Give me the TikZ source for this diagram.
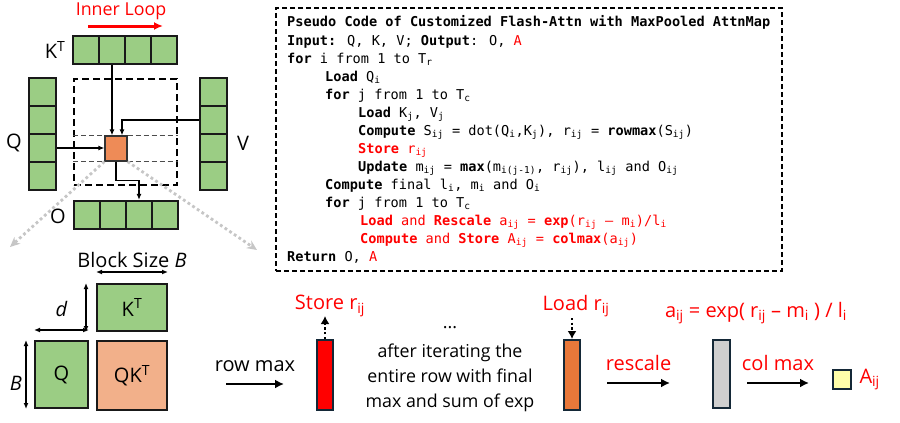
\documentclass[tikz,border=0pt]{standalone}
\usepackage{xcolor}
\usepackage{fontspec}
\setmainfont{Open Sans}
\newfontfamily\codefont{DejaVu Sans Mono}
\usepackage{tikz}
\usetikzlibrary{positioning,calc,arrows.meta}

\definecolor{cellgreen}{RGB}{155,205,132}
\definecolor{blkorange}{RGB}{238,139,87}
\definecolor{qksalmon}{RGB}{242,176,138}
\definecolor{barorange}{RGB}{232,120,58}
\definecolor{bargrey}{RGB}{207,207,207}
\definecolor{outyellow}{RGB}{255,255,170}
\definecolor{barline}{RGB}{20,40,55}
\newcommand{\sbs}[1]{\textsubscript{#1}}

\begin{document}
\begin{tikzpicture}[x=1pt,y=-1pt,
    lbl/.style={font=\fontsize{20}{24}\selectfont},
    smalllbl/.style={font=\fontsize{17.8}{25}\selectfont},
    code/.style={font=\codefont\fontsize{13.6}{18}\selectfont, anchor=base west, inner sep=0pt},
    cell/.style={draw=black!90, line width=2.2pt, fill=cellgreen, minimum width=26pt, minimum height=28pt, inner sep=0pt},
    vcell/.style={cell, minimum width=27pt},
    box/.style={draw=black!90, line width=2pt, inner sep=0pt, lbl},
    bar/.style={draw=barline, line width=2pt, inner sep=0pt, minimum width=16pt, minimum height=70pt},
    flow/.style={-{Latex[length=6pt,width=5pt]}, line width=1.3pt},
    dim/.style={<->, >={Latex[length=6pt,width=5pt]}, line width=1.4pt},
    bigarrow/.style={-{Latex[length=9pt,width=9pt]}, line width=2.6pt},
    dotflow/.style={-{Latex[length=8pt,width=9pt]}, line width=2.6pt, dash pattern=on 2.4pt off 2.2pt},
    zoomline/.style={-{Stealth[length=10pt,width=9pt]}, draw=gray!45, line width=2.8pt, dash pattern=on 2.8pt off 2.8pt}]
\useasboundingbox (0,0) rectangle (900,423);

% tiled attention
\node[smalllbl, text=red] (inner) at (121,11) {Inner Loop};
\coordinate (ilA) at (88,26);
\coordinate (ilB) at (163,26);
\draw[-{Latex[length=9pt,width=8pt]}, red, line width=3pt] (ilA) -- (ilB);

\foreach \i in {1,...,4} {
    \node[cell] (k\i) at ({60+26*\i},50) {};
    \node[vcell] (q\i) at (42.5,{64+28*\i}) {};
    \node[vcell] (v\i) at (213.5,{64+28*\i}) {};
    \node[cell] (o\i) at ({61+26*\i},215) {};
}
\node[lbl, left=3pt of k1] (ktl) {K\textsuperscript{T}};
\node[lbl] (ql) at (14,143) {Q};
\node[lbl] (vl) at (243,143) {V};
\node[lbl] (ol) at (58,216) {O};

\node[draw, line width=1.3pt, dash pattern=on 7pt off 4pt, minimum width=103pt, minimum height=106pt] (win) at (125.5,132) {};
\node[draw=black!80, fill=blkorange, line width=1.2pt, minimum width=22pt, minimum height=25pt, inner sep=0pt] (blk) at (116,148.5) {};
\draw[black!70, line width=1pt, dash pattern=on 5pt off 3pt] (win.west |- blk.north) -- (blk.north west);
\draw[black!70, line width=1pt, dash pattern=on 5pt off 3pt] (blk.north east) -- (win.east |- blk.north);
\draw[black!70, line width=1pt, dash pattern=on 5pt off 3pt] (win.west |- blk.south) -- (blk.south west);
\draw[black!70, line width=1pt, dash pattern=on 5pt off 3pt] (blk.south east) -- (win.east |- blk.south);

\draw[flow] (k2.south) -- (k2.south |- blk.north);
\draw[flow] (v2.west) -| ([xshift=6pt]blk.north);
\draw[flow] (q3.east) -- (q3.east -| blk.west);
\draw[flow] (blk.south) -- ++(0,19) -| (o3.north);

\coordinate (zl) at (10,247);
\coordinate (zr) at (257,250);
\draw[zoomline] (blk.south west) -- (zl);
\draw[zoomline] (blk.south east) -- (zr);

% pseudo code
\node[draw, line width=1.2pt, dash pattern=on 5pt off 3pt, minimum width=506pt, minimum height=263pt] (codebox) at (529,139.5) {};
\node[code] (c1) at (287,27) {\textbf{Pseudo Code of Customized Flash-Attn with MaxPooled AttnMap}};
\node[code] (c2) at (287,45) {\textbf{Input:} Q, K, V; \textbf{Output}: O, \textcolor{red}{A}};
\node[code] (c3) at (287,63) {\textbf{for} i from 1 to T\sbs{r}};
\node[code] (c4) at (325,81) {\textbf{Load} Q\sbs{i}};
\node[code] (c5) at (325,99) {\textbf{for} j from 1 to T\sbs{c}};
\node[code] (c6) at (358,117) {\textbf{Load} K\sbs{j}, V\sbs{j}};
\node[code] (c7) at (358,135) {\textbf{Compute} S\sbs{ij} = dot(Q\sbs{i},K\sbs{j}), r\sbs{ij} = \textbf{rowmax}(S\sbs{ij})};
\node[code, text=red] (c8) at (358,153) {\textbf{Store} r\sbs{ij}};
\node[code] (c9) at (358,171) {\textbf{Update} m\sbs{ij} = \textbf{max}(m\sbs{i(j-1)}, r\sbs{ij}), l\sbs{ij} and O\sbs{ij}};
\node[code] (c10) at (325,189) {\textbf{Compute} final l\sbs{i}, m\sbs{i} and O\sbs{i}};
\node[code] (c11) at (325,207) {\textbf{for} j from 1 to T\sbs{c}};
\node[code, text=red] (c12) at (360,225) {\textbf{Load} and \textbf{Rescale} a\sbs{ij} = \textbf{exp}(r\sbs{ij} – m\sbs{i})/l\sbs{i}};
\node[code, text=red] (c13) at (360,243) {\textbf{Compute} and \textbf{Store} A\sbs{ij} = \textbf{colmax}(a\sbs{ij})};
\node[code] (c14) at (287,261) {\textbf{Return} O, \textcolor{red}{A}};

% one block
\node[box, fill=cellgreen, minimum width=70pt, minimum height=47pt] (ktb) at (132,307.5) {K\textsuperscript{T}};
\node[box, fill=cellgreen, minimum width=53pt, minimum height=67pt] (qb) at (61.5,374.5) {Q};
\node[box, fill=qksalmon, minimum width=70pt, minimum height=69pt] (qkb) at (132,375.5) {QK\textsuperscript{T}};
\draw[dim] ([yshift=11pt]ktb.north west) -- node[above=0pt, lbl] (bsl) {Block Size \textit{B}} ([yshift=11pt]ktb.north east);
\draw[dim] ([xshift=-10pt]ktb.north west) -- ([xshift=-10pt]ktb.south west);
\draw[dim] ([yshift=10pt]qb.north west) -- node[above=9pt, lbl] (dl) {\textit{d}} ([yshift=10pt]qb.north east);
\draw[dim] ([xshift=-8pt]qb.north west) -- node[left=0pt, yshift=-9pt, lbl] (bl) {\textit{B}} ([xshift=-8pt]qb.south west);

% row max / rescale / col max
\coordinate (rmA) at (226,384);
\coordinate (rmB) at (284,384);
\draw[bigarrow] (rmA) -- node[above=8pt, lbl] (rml) {row max} (rmB);

\node[bar, fill=red] (redbar) at (325,375) {};
\node[lbl, text=red] (stl) at (330,306) {Store r\sbs{ij}};
\draw[dotflow] (redbar.north) -- ([yshift=23pt]redbar.north);

\node[smalllbl] (dots) at (450,328) {...};
\node[smalllbl, align=center] (iter) at (450,378) {after iterating the\\entire row with final\\max and sum of exp};

\node[bar, fill=barorange] (obar) at (572,375) {};
\node[lbl, text=red] (ldl) at (576,306) {Load r\sbs{ij}};
\draw[dotflow] ([yshift=21pt]obar.north) -- (obar.north);

\node[lbl, text=red] (fml) at (756,313) {a\sbs{ij} = exp( r\sbs{ij} – m\sbs{i} ) / l\sbs{i}};

\coordinate (rsA) at (607,383);
\coordinate (rsB) at (670,383);
\draw[bigarrow] (rsA) -- node[above=8pt, lbl, text=red] (rsl) {rescale} (rsB);

\node[bar, fill=bargrey, minimum width=17pt, minimum height=68pt] (gbar) at (721.5,374) {};

\coordinate (cmA) at (747,383);
\coordinate (cmB) at (809,383);
\draw[bigarrow] (cmA) -- node[above=8pt, lbl, text=red] (cml) {col max} (cmB);

\node[draw=barline, line width=2pt, fill=outyellow, minimum width=18pt, minimum height=19pt, inner sep=0pt] (aout) at (842,379.5) {};
\node[lbl, text=red, right=4pt of aout] (al) {A\sbs{ij}};
\end{tikzpicture}
\end{document}
